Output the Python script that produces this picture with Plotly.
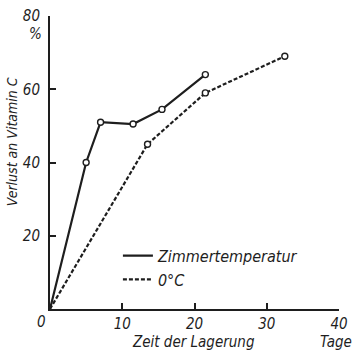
import plotly.graph_objects as go

# Data
days_room = [0, 5, 7, 11.5, 15.5, 21.5]
loss_room = [0, 40, 51, 50.5, 54.5, 64]
days_cold = [0, 13.5, 21.5, 32.5]
loss_cold = [0, 45, 59, 69]
series_names = ["Zimmertemperatur", "0°C"]
x_ticks = [10, 20, 30, 40]
y_ticks = [20, 40, 60, 80]

FONT = "Liberation Sans Narrow, DejaVu Sans Condensed, Arial Narrow, sans-serif"
INK = "#1e1e1e"

fig = go.Figure()
fig.add_trace(go.Scatter(x=days_room, y=loss_room, mode="lines", name=series_names[0],
                         line=dict(color=INK, width=2.2)))
fig.add_trace(go.Scatter(x=days_cold, y=loss_cold, mode="lines", name=series_names[1],
                         line=dict(color=INK, width=2.2, dash="4px,2px")))
fig.add_trace(go.Scatter(x=days_room[1:], y=loss_room[1:], mode="markers", showlegend=False,
                         marker=dict(symbol="circle", size=6, color="white",
                                     line=dict(color=INK, width=1.4))))
fig.add_trace(go.Scatter(x=days_cold[1:], y=loss_cold[1:], mode="markers", showlegend=False,
                         marker=dict(symbol="circle", size=6, color="white",
                                     line=dict(color=INK, width=1.4))))

tickfont = dict(family=FONT, size=15, color=INK, style="italic")

fig.update_layout(
    width=355, height=353,
    margin=dict(l=50, r=7, t=13, b=44),
    paper_bgcolor="white", plot_bgcolor="white",
    showlegend=True,
    legend=dict(x=0.235, y=0.24, xanchor="left", yanchor="top",
                bgcolor="rgba(0,0,0,0)", font=dict(family=FONT, size=16, color=INK, style="italic"),
                tracegroupgap=0, itemwidth=30),
    xaxis=dict(range=[0, 40], showgrid=False, zeroline=False, showline=True,
               linecolor=INK, linewidth=2, ticks="inside", ticklen=6, tickwidth=1.5,
               tickcolor=INK, tickvals=x_ticks, ticktext=[str(v) for v in x_ticks],
               tickfont=tickfont, ticklabelstandoff=0, ticklabeloverflow="allow"),
    yaxis=dict(range=[0, 80], showgrid=False, zeroline=False, showline=True,
               linecolor=INK, linewidth=2, ticks="inside", ticklen=6, tickwidth=1.5,
               tickcolor=INK, tickvals=y_ticks, ticktext=[str(v) for v in y_ticks],
               tickfont=tickfont, ticklabelstandoff=5, ticklabeloverflow="allow"),
)

fig.add_annotation(text="Verlust an Vitamin C", xref="paper", yref="paper",
                   x=-0.131, y=0.57, textangle=-90, showarrow=False,
                   xanchor="center", yanchor="middle",
                   font=dict(family=FONT, size=14, color=INK, style="italic"))
fig.add_annotation(text="Zeit der Lagerung", xref="paper", yref="paper",
                   x=0.495, y=-0.111, showarrow=False, xanchor="center", yanchor="middle",
                   font=dict(family=FONT, size=15, color=INK, style="italic"))
fig.add_annotation(text="Tage", xref="paper", yref="paper",
                   x=0.99, y=-0.111, showarrow=False, xanchor="center", yanchor="middle",
                   font=dict(family=FONT, size=15, color=INK, style="italic"))
fig.add_annotation(text="%", xref="paper", yref="paper",
                   x=-0.05, y=0.94, showarrow=False, xanchor="center", yanchor="middle",
                   font=dict(family=FONT, size=15, color=INK, style="italic"))
fig.add_annotation(text="0", xref="paper", yref="paper",
                   x=-0.028, y=-0.045, showarrow=False, xanchor="center", yanchor="middle",
                   font=dict(family=FONT, size=15, color=INK, style="italic"))

fig.write_html("out.html")
